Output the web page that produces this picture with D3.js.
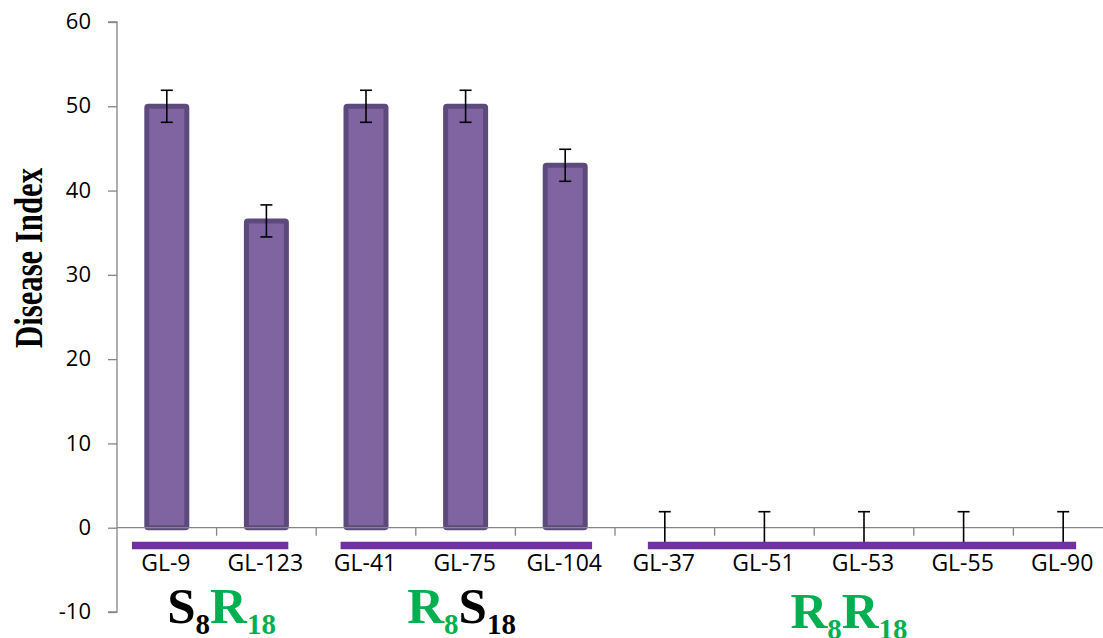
<!DOCTYPE html>
<html>
<head>
<meta charset="utf-8">
<script src="https://cdn.jsdelivr.net/npm/d3@7"></script>
<style>
  html, body { margin: 0; padding: 0; background: #fff; }
  svg { display: block; }
</style>
</head>
<body>
<svg id="chart" width="1103" height="638"></svg>
<script>
// ---- data ----
const categories = ["GL-9", "GL-123", "GL-41", "GL-75", "GL-104", "GL-37", "GL-51", "GL-53", "GL-55", "GL-90"];
const diseaseIndex = [50, 36.4, 50, 50, 43, 0, 0, 0, 0, 0];
const errorValues = [1.9, 1.9, 1.9, 1.9, 1.9, 1.9, 1.9, 1.9, 1.9, 1.9];
const yTicks = [-10, 0, 10, 20, 30, 40, 50, 60];
const yTitle = "Disease Index";
// genotype groups: first/last category, and label parts [text, colour, isSub]
const groupFirst = ["GL-9", "GL-41", "GL-37"];
const groupLast = ["GL-123", "GL-104", "GL-90"];
const groupLabels = [
  [["S", "#000", false], ["8", "#000", true], ["R", "#00B050", false], ["18", "#00B050", true]],
  [["R", "#00B050", false], ["8", "#00B050", true], ["S", "#000", false], ["18", "#000", true]],
  [["R", "#00B050", false], ["8", "#00B050", true], ["R", "#00B050", false], ["18", "#00B050", true]]
];

// ---- layout ----
const svg = d3.select("#chart");
const x = d3.scaleBand().domain(categories).range([117, 1113]).padding(0);
const y = d3.scaleLinear().domain([-10, 60]).range([612, 22]);
const bw = x.bandwidth();
const cx = c => x(c) + bw / 2;

// group line extents (fractions of band) and label anchor offsets
const lineStartFrac = [0.15, 0.245, 0.33];
const lineEndFrac = [0.72, 0.77, 0.63];
const labelShift = [5, -4, -15];
const labelBaseline = [623, 623, 628];

const axisColor = "#868686";
const font = "'Open Sans', 'Liberation Sans', sans-serif";

// bars
const barW = 40;
svg.append("g").selectAll("rect")
  .data(categories.map((c, i) => ({ c, v: diseaseIndex[i] })).filter(d => d.v > 0))
  .join("rect")
  .attr("x", d => cx(d.c) - barW / 2)
  .attr("y", d => y(d.v))
  .attr("width", barW)
  .attr("height", d => y(0) - y(d.v))
  .attr("rx", 1.5)
  .attr("fill", "#8064A2")
  .attr("stroke", "#5D4A7C")
  .attr("stroke-width", 5);

// y axis
const yAxis = d3.axisLeft(y).tickValues(yTicks).tickSize(9).tickPadding(17).tickFormat(d => String(d));
const gy = svg.append("g").attr("transform", "translate(117,0)").call(yAxis);
gy.select(".domain").attr("stroke", axisColor).attr("stroke-width", 1.3)
  .attr("d", `M-9,${y(60)}H0V${y(-10)}H-9`);
gy.selectAll(".tick line").attr("stroke", axisColor).attr("stroke-width", 1.3);
gy.selectAll(".tick text").attr("fill", "#000").style("font-family", font).style("font-size", "22px")
  .attr("dy", "0.3em");

// x axis line at zero
svg.append("line")
  .attr("x1", 117).attr("x2", x.range()[1])
  .attr("y1", y(0)).attr("y2", y(0))
  .attr("stroke", axisColor).attr("stroke-width", 1.3);
svg.append("g").selectAll("line")
  .data(categories.slice(1).concat(["__end"]))
  .join("line")
  .attr("x1", d => d === "__end" ? x.range()[1] : x(d))
  .attr("x2", d => d === "__end" ? x.range()[1] : x(d))
  .attr("y1", y(0)).attr("y2", y(0) + 8)
  .attr("stroke", axisColor).attr("stroke-width", 1.3);

// error bars
const capW = 12;
const eb = svg.append("g").attr("stroke", "#000").attr("stroke-width", 1.6);
categories.forEach((c, i) => {
  const v = diseaseIndex[i], e = errorValues[i];
  eb.append("line").attr("x1", cx(c)).attr("x2", cx(c)).attr("y1", y(v + e)).attr("y2", y(v - e));
  eb.append("line").attr("x1", cx(c) - capW / 2).attr("x2", cx(c) + capW / 2).attr("y1", y(v + e)).attr("y2", y(v + e));
  eb.append("line").attr("x1", cx(c) - capW / 2).attr("x2", cx(c) + capW / 2).attr("y1", y(v - e)).attr("y2", y(v - e));
});

// group lines
groupFirst.forEach((f, g) => {
  svg.append("line")
    .attr("x1", x(f) + lineStartFrac[g] * bw)
    .attr("x2", x(groupLast[g]) + lineEndFrac[g] * bw)
    .attr("y1", 545.5).attr("y2", 545.5)
    .attr("stroke", "#7030A0").attr("stroke-width", 7.5);
});

// category labels
svg.append("g").selectAll("text")
  .data(categories)
  .join("text")
  .attr("x", d => cx(d) - 1)
  .attr("y", 571)
  .attr("text-anchor", "middle")
  .style("font-family", font)
  .style("font-size", "23px")
  .attr("fill", "#000")
  .text(d => d);

// group labels
groupFirst.forEach((f, g) => {
  const mid = (cx(f) + cx(groupLast[g])) / 2 + labelShift[g];
  const t = svg.append("text")
    .attr("x", mid).attr("y", labelBaseline[g])
    .attr("text-anchor", "middle")
    .style("font-family", "'Liberation Serif', 'Times New Roman', serif")
    .style("font-weight", "bold");
  let shifted = false;
  groupLabels[g].forEach(([txt, col, sub]) => {
    const ts = t.append("tspan").text(txt).attr("fill", col)
      .style("font-size", sub ? "29px" : "51px");
    if (sub && !shifted) { ts.attr("dy", 11); shifted = true; }
    else if (!sub && shifted) { ts.attr("dy", -11); shifted = false; }
  });
});

// y title
svg.append("text")
  .attr("transform", `translate(42,258) rotate(-90)`)
  .attr("text-anchor", "middle")
  .attr("textLength", 180)
  .attr("lengthAdjust", "spacingAndGlyphs")
  .style("font-family", "'Liberation Serif', 'Times New Roman', serif")
  .style("font-weight", "bold")
  .style("font-size", "40px")
  .attr("fill", "#000")
  .text(yTitle);
</script>
</body>
</html>
